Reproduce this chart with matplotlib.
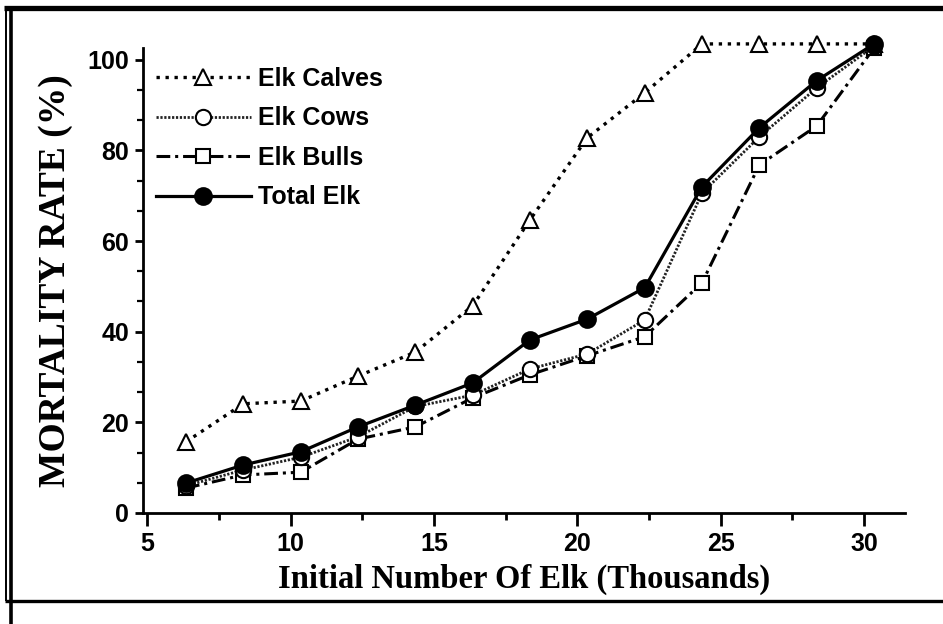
import matplotlib
matplotlib.use("Agg")
import matplotlib.pyplot as plt
from matplotlib.lines import Line2D
from matplotlib.ticker import MultipleLocator

# ---- data ----
elk_thousands = [6.35, 8.35, 10.35, 12.35, 14.35, 16.35, 18.35, 20.35, 22.35, 24.35, 26.35, 28.35, 30.35]
calves = [15.7, 24.1, 24.7, 30.2, 35.5, 45.7, 64.7, 82.8, 92.7, 103.5, 103.5, 103.5, 103.5]
cows   = [6.0, 9.5, 12.3, 16.8, 23.5, 26.0, 31.8, 35.1, 42.6, 70.6, 83.0, 93.8, 103.0]
bulls  = [5.5, 8.4, 9.0, 16.3, 19.0, 25.4, 30.5, 34.7, 38.9, 50.8, 76.8, 85.4, 102.6]
total  = [6.6, 10.6, 13.5, 19.0, 23.8, 28.7, 38.2, 42.8, 49.7, 72.0, 85.0, 95.4, 103.5]
series_labels = ["Elk Calves", "Elk Cows", "Elk Bulls", "Total Elk"]
x_ticks = [5, 10, 15, 20, 25, 30]
y_ticks = [0, 20, 40, 60, 80, 100]

W, H = 943, 624
fig = plt.figure(figsize=(W / 100, H / 100), dpi=100)
ax = fig.add_axes([143 / W, 1 - 513 / H, (905 - 143) / W, (513 - 48) / H])

sans = "Liberation Sans"
serif = "Liberation Serif"

l_calves, = ax.plot(elk_thousands, calves, color="black", lw=2.4,
                    linestyle=(0, (1, 1.7)), marker="^", ms=12, mfc="white",
                    mec="black", mew=1.5, label=series_labels[0], zorder=3, clip_on=False)
l_bulls, = ax.plot(elk_thousands, bulls, color="black", lw=2.2,
                   linestyle=(0, (4.5, 1.6, 1, 1.6)), marker="s", ms=10.5, mfc="white",
                   mec="black", mew=1.5, label=series_labels[2], zorder=4, clip_on=False)
l_cows, = ax.plot(elk_thousands, cows, color="#222222", lw=2.0,
                  linestyle=(0, (0.8, 0.6)), marker="o", ms=11, mfc="white",
                  mec="black", mew=1.5, label=series_labels[1], zorder=5, clip_on=False)
l_total, = ax.plot(elk_thousands, total, color="black", lw=2.3, linestyle="-",
                   marker="o", ms=12, mfc="black", mec="black", mew=1.5,
                   label=series_labels[3], zorder=6, clip_on=False)

ax.set_xlim(4.85, 31.43)
ax.set_ylim(0, 102.6)
ax.set_xticks(x_ticks)
ax.set_yticks(y_ticks)
ax.xaxis.set_minor_locator(MultipleLocator(2.5))
ax.yaxis.set_minor_locator(MultipleLocator(20 / 3))

for s in ["top", "right"]:
    ax.spines[s].set_visible(False)
for s in ["left", "bottom"]:
    ax.spines[s].set_linewidth(2.0)

ax.tick_params(axis="x", which="major", length=9, width=2.0, direction="out", pad=5)
ax.tick_params(axis="x", which="minor", length=5, width=2.0, direction="out")
ax.tick_params(axis="y", which="major", length=6, width=2.0, direction="out", pad=4)
ax.tick_params(axis="y", which="minor", length=4, width=1.6, direction="out")
for lab in ax.get_xticklabels() + ax.get_yticklabels():
    lab.set_fontfamily(sans)
    lab.set_fontweight("bold")
    lab.set_fontsize(18)

ax.set_xlabel("Initial Number Of Elk (Thousands)", fontfamily=serif,
              fontweight="bold", fontsize=23.5, labelpad=5)
ax.set_ylabel("MORTALITY RATE (%)", fontfamily=serif, fontweight="bold",
              fontsize=27, labelpad=10)

leg = ax.legend(handles=[l_calves, l_cows, l_bulls, l_total], loc="upper left",
                bbox_to_anchor=(0.01, 0.97), frameon=False,
                prop={"family": sans, "weight": "bold", "size": 18},
                handlelength=3.8, handletextpad=0.3, labelspacing=0.62,
                borderaxespad=0.0, borderpad=0.2)

# ---- page frame (scan border) ----
def fline(x0, y0, x1, y1, lw):
    fig.add_artist(Line2D([x0 / W, x1 / W], [1 - y0 / H, 1 - y1 / H],
                          transform=fig.transFigure, color="black", lw=lw,
                          solid_capstyle="butt"))

fline(4, 7.5, W, 7.5, 3.8)      # top
fline(6, 6, 6, 601, 1.4)        # left outer thin
fline(10.5, 6, 10.5, H, 2.6)    # left inner thick
fline(5, 600.5, W, 600.5, 2.4)  # bottom

fig.savefig("out.png", dpi=100)
